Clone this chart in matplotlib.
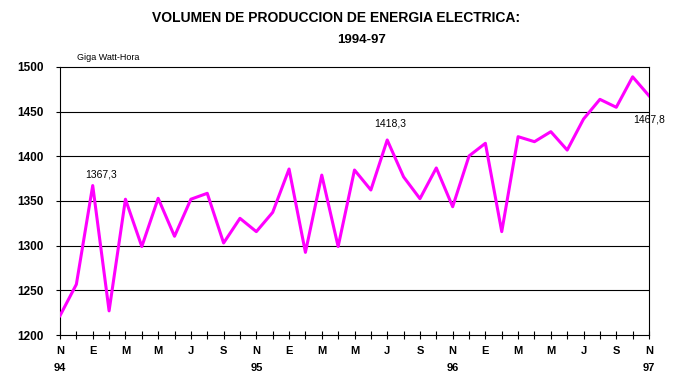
import matplotlib.pyplot as plt
from matplotlib import font_manager

# meses nov-94 a nov-97
meses = ["N", "D", "E", "F", "M", "A", "M", "J", "J", "A", "S", "O"] * 3 + ["N"]
anios = {0: "94", 12: "95", 24: "96", 36: "97"}

# Giga Watt-Hora
produccion = [1221.6, 1256.7, 1367.3, 1227.0, 1352.0, 1299.0, 1353.0, 1310.5, 1352.0, 1358.6, 1303.0, 1330.6,
              1315.7, 1337.3, 1385.8, 1292.5, 1379.0, 1299.0, 1384.7, 1362.3, 1418.3, 1377.0, 1352.6, 1387.0,
              1343.6, 1400.4, 1414.6, 1315.7, 1422.0, 1416.4, 1427.6, 1407.0, 1441.8, 1463.8, 1454.9, 1489.0,
              1467.8]
etiquetas = {2: "1367,3", 20: "1418,3", 36: "1467,8"}
offsets = {2: (6, 8), 20: (2, 12), 36: (0, -17)}

names = {f.name for f in font_manager.fontManager.ttflist}
narrow = "Liberation Sans Narrow" if "Liberation Sans Narrow" in names else "Liberation Sans"
plt.rcParams['font.family'] = ['Liberation Sans', 'DejaVu Sans']

fig = plt.figure(figsize=(6.79, 3.85), dpi=100)
ax = fig.add_axes([60 / 679, 1 - 335 / 385, 589 / 679, 268 / 385])

x = list(range(len(produccion)))
ax.plot(x, produccion, color="#FF00FF", lw=2.2, zorder=3)

for i, txt in etiquetas.items():
    ax.annotate(txt, (i, produccion[i]), xytext=offsets[i], textcoords="offset points",
                ha="center", va="center", fontsize=7.5)

ax.set_xlim(0, 36)
ax.set_ylim(1200, 1500)
ax.set_yticks(range(1200, 1501, 50))
ax.set_yticklabels([str(v) for v in range(1200, 1501, 50)], fontweight="bold",
                   family=narrow, fontsize=8.5)
for v in range(1250, 1500, 50):
    ax.axhline(v, color="black", lw=0.8, zorder=1)

ax.set_xticks(range(0, 37, 2))
lbls = []
for i in range(0, 37, 2):
    lbls.append(meses[i] + ("\n" + anios[i] if i in anios else ""))
ax.set_xticklabels(lbls, fontweight="bold", family=narrow, fontsize=8, linespacing=1.9)
ax.set_xticks(range(37), minor=True)
ax.tick_params(axis="x", which="both", direction="inout", length=6, width=0.8, pad=5)
ax.tick_params(axis="y", length=3, width=0.8, pad=8.6)

for s in ax.spines.values():
    s.set_linewidth(0.8)

fig.text(336 / 679, 1 - 18 / 385, "VOLUMEN DE PRODUCCION DE ENERGIA ELECTRICA:",
         ha="center", va="center", fontweight="bold", fontsize=10)
fig.text(362 / 679, 1 - 40 / 385, "1994-97", ha="center", va="center", fontweight="bold", fontsize=9.5)
fig.text(77 / 679, 1 - 57 / 385, "Giga Watt-Hora", ha="left", va="center", fontsize=6.5)

fig.savefig("out.png", dpi=100)
